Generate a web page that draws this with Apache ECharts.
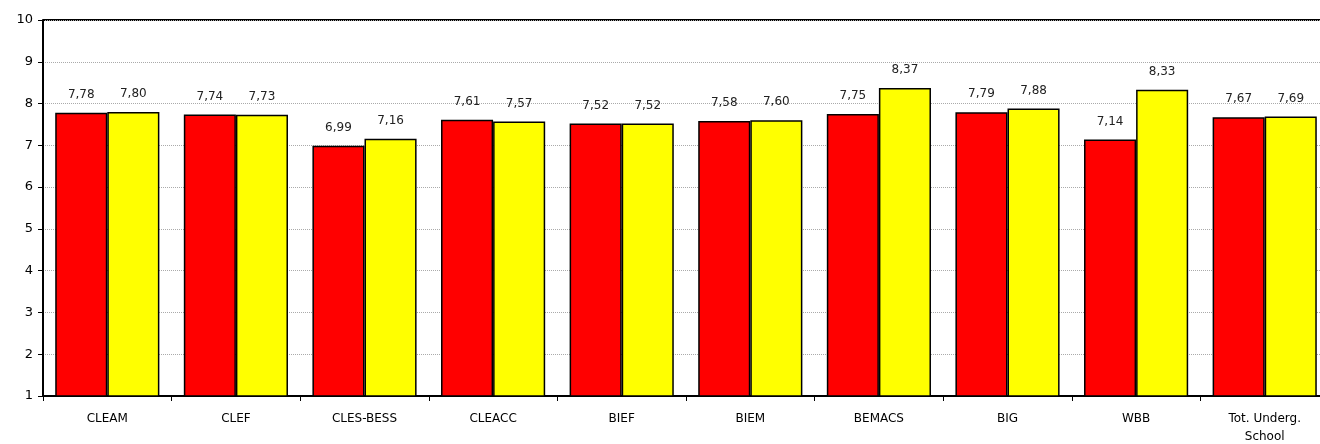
<!DOCTYPE html>
<html><head><meta charset="utf-8">
<script src="https://cdn.jsdelivr.net/npm/echarts@6/dist/echarts.min.js"></script>
<style>html,body{margin:0;padding:0;background:#fff}#c{width:1320px;height:444px}</style>
</head><body><div id="c"></div>
<script>
const categories = ['CLEAM','CLEF','CLES-BESS','CLEACC','BIEF','BIEM','BEMACS','BIG','WBB','Tot. Underg.\nSchool'];
const seriesRed = [7.78,7.74,6.99,7.61,7.52,7.58,7.75,7.79,7.14,7.67];
const seriesYellow = [7.80,7.73,7.16,7.57,7.52,7.60,8.37,7.88,8.33,7.69];
const yMin = 1, yMax = 10, yInterval = 1;

const fmt = p => p.value.toFixed(2).replace('.', ',');
const chart = echarts.init(document.getElementById('c'));
const font = '"DejaVu Sans", sans-serif';
chart.setOption({
  animation: false,
  grid: {left: 43, top: 20, width: 1286, height: 376, containLabel: false, outerBoundsMode: 'none'},
  xAxis: {
    type: 'category', data: categories,
    axisLine: {lineStyle: {color: '#000', width: 2}},
    axisTick: {show: true, length: 5, lineStyle: {color: '#000'}},
    axisLabel: {color: '#000', fontSize: 12, fontFamily: font, margin: 14, lineHeight: 18, interval: 0},
    splitLine: {show: false}
  },
  yAxis: {
    type: 'value', min: yMin, max: yMax, interval: yInterval,
    axisLine: {show: true, lineStyle: {color: '#000', width: 2}},
    axisTick: {show: true, length: 5, lineStyle: {color: '#000'}},
    axisLabel: {color: '#000', fontSize: 13, fontFamily: font, margin: 10},
    splitLine: {show: true, lineStyle: {color: '#aaa', type: 'dotted', width: 1}}
  },
  series: [
    {type: 'bar', data: seriesRed, barGap: '0%', barCategoryGap: '19%',
     itemStyle: {color: '#ff0000', borderColor: '#000', borderWidth: 1.5},
     label: {show: true, position: 'top', distance: 12, formatter: fmt, color: '#222', fontSize: 12, fontFamily: font}},
    {type: 'bar', data: seriesYellow,
     itemStyle: {color: '#ffff00', borderColor: '#000', borderWidth: 1.5},
     label: {show: true, position: 'top', distance: 12, formatter: fmt, color: '#222', fontSize: 12, fontFamily: font}}
  ],
  graphic: [{type: 'line', shape: {x1: 43, y1: 20, x2: 1320, y2: 20}, style: {stroke: '#000', lineWidth: 2}}]
});
</script></body></html>
